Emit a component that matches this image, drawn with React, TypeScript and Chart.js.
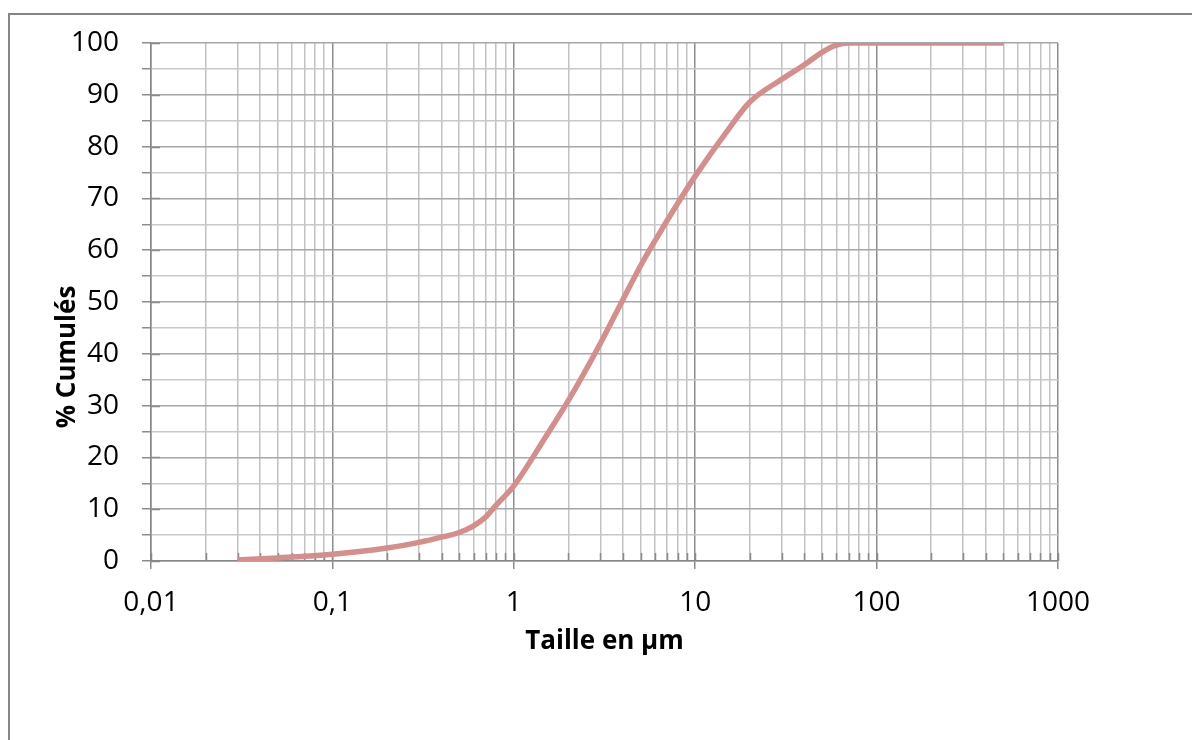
import React, { useEffect, useRef } from "react";
import { Chart, registerables } from "chart.js";

Chart.register(...registerables);

// Particle size (µm) and cumulative percentage
const sizes: number[] = [0.03, 0.05, 0.1, 0.2, 0.3, 0.4, 0.5, 0.6, 0.7, 0.8, 1, 1.5, 2, 3, 4, 5, 6, 8, 10, 15, 20, 30, 40, 50, 60, 70, 100, 200, 500];
const cumul: number[] = [0.2, 0.6, 1.3, 2.5, 3.6, 4.6, 5.5, 6.8, 8.5, 10.8, 14.5, 24, 31, 42, 50.5, 57, 61.8, 69, 74.3, 83, 88.6, 93, 95.8, 98.2, 99.6, 100, 100, 100, 100];

// Axis ticks
const decades: number[] = [0.01, 0.1, 1, 10, 100];
const multipliers: number[] = [1, 2, 3, 4, 5, 6, 7, 8, 9];
const xMax = 1000;
const xTickLabels: string[] = ["0,01", "0,1", "1", "10", "100", "1000"];
const xTickLabelValues: number[] = [0.01, 0.1, 1, 10, 100, 1000];
const yMin = 0;
const yMax = 100;
const yStep = 5;

const xTitle = "Taille en µm";
const yTitle = "% Cumulés";
const seriesLabel = "% Cumulés";

const FONT = "'Open Sans', 'DejaVu Sans', sans-serif";

function isDecade(v: number): boolean {
  const l = Math.log10(v);
  return Math.abs(l - Math.round(l)) < 1e-9;
}

function labelFor(v: number): string {
  for (let i = 0; i < xTickLabelValues.length; i++) {
    if (Math.abs(Math.log10(v) - Math.log10(xTickLabelValues[i])) < 1e-9) return xTickLabels[i];
  }
  return "";
}

const xTickValues: number[] = [];
decades.forEach((d) => multipliers.forEach((m) => xTickValues.push(+(d * m).toPrecision(6))));
xTickValues.push(xMax);

const decor = {
  id: "decor",
  beforeDatasetsDraw(chart: any) {
    const { ctx, scales } = chart;
    const xs = scales.x;
    const ys = scales.y;
    ctx.save();
    ctx.strokeStyle = "#8a8a8a";
    ctx.lineWidth = 1.5;
    ctx.beginPath();
    xs.ticks.forEach((t: any) => {
      const px = Math.round(xs.getPixelForValue(t.value)) + 0.5;
      ctx.moveTo(px, ys.bottom);
      ctx.lineTo(px, ys.bottom - 8);
    });
    ys.ticks.forEach((t: any) => {
      if (t.value % 10 === 0) {
        const py = Math.round(ys.getPixelForValue(t.value)) + 0.5;
        ctx.moveTo(xs.left, py);
        ctx.lineTo(xs.left + 9, py);
      }
    });
    ctx.stroke();
    ctx.restore();
  },
  afterDraw(chart: any) {
    const { ctx } = chart;
    ctx.save();
    ctx.translate(68, 357);
    ctx.rotate(-Math.PI / 2);
    ctx.font = `bold 26px ${FONT}`;
    ctx.fillStyle = "#000";
    ctx.textAlign = "center";
    ctx.textBaseline = "middle";
    ctx.fillText(yTitle, 0, 0);
    ctx.restore();
  },
};

export default function App() {
  const ref = useRef<HTMLCanvasElement | null>(null);

  useEffect(() => {
    if (!ref.current) return;
    const chart = new Chart(ref.current, {
      type: "line",
      data: {
        datasets: [
          {
            label: seriesLabel,
            data: sizes.map((s, i) => ({ x: s, y: cumul[i] })),
            borderColor: "#D38E8E",
            borderWidth: 5.5,
            borderCapStyle: "butt",
            borderJoinStyle: "round",
            pointRadius: 0,
            fill: false,
            cubicInterpolationMode: "monotone",
          },
        ],
      },
      options: {
        animation: false,
        responsive: false,
        maintainAspectRatio: false,
        layout: { padding: { top: 43, right: 134, left: 0, bottom: 0 } },
        plugins: { legend: { display: false }, tooltip: { enabled: false } },
        scales: {
          x: {
            type: "logarithmic",
            min: 0.01,
            max: xMax,
            afterBuildTicks: (scale: any) => {
              scale.ticks = xTickValues.map((v) => ({ value: v, major: isDecade(v) }));
            },
            afterFit: (scale: any) => {
              scale.height = 179;
            },
            border: { display: true, color: "#868686", width: 1.5 },
            grid: {
              color: (c: any) => (c.tick && isDecade(c.tick.value) ? "#8c8c8c" : "#c2c2c2"),
              lineWidth: 1.5,
              tickLength: 8,
              tickColor: (c: any) => (c.tick && isDecade(c.tick.value) ? "#8c8c8c" : "rgba(0,0,0,0)"),
            },
            ticks: {
              autoSkip: false,
              maxRotation: 0,
              padding: 17,
              color: "#000",
              font: { family: FONT, size: 28 },
              callback: (v: any) => labelFor(Number(v)),
            },
            title: {
              display: true,
              text: xTitle,
              color: "#000",
              font: { family: FONT, size: 26, weight: "bold" },
              padding: { top: 0, bottom: 83 },
            },
          },
          y: {
            type: "linear",
            min: yMin,
            max: yMax,
            afterFit: (scale: any) => {
              scale.width = 151;
            },
            border: { display: true, color: "#868686", width: 1.5 },
            grid: {
              color: (c: any) => (c.tick && c.tick.value % 10 === 0 ? "#a6a6a6" : "#c8c8c8"),
              lineWidth: 1.5,
              tickLength: 9,
              tickColor: "#8c8c8c",
            },
            ticks: {
              stepSize: yStep,
              autoSkip: false,
              padding: 23,
              color: "#000",
              font: { family: FONT, size: 28 },
              callback: (v: any) => (Number(v) % 10 === 0 ? String(v) : ""),
            },
          },
        },
      },
      plugins: [decor],
    } as any);
    return () => chart.destroy();
  }, []);

  return (
    <div style={{ position: "fixed", left: 0, top: 0, width: 1192, height: 740, overflow: "hidden", background: "#fff" }}>
      <div
        style={{
          position: "absolute",
          left: 8,
          top: 13,
          width: 3000,
          height: 3000,
          borderLeft: "2px solid #868686",
          borderTop: "2px solid #868686",
        }}
      />
      <canvas ref={ref} width={1192} height={740} style={{ position: "absolute", left: 0, top: 0, width: 1192, height: 740 }} />
    </div>
  );
}
